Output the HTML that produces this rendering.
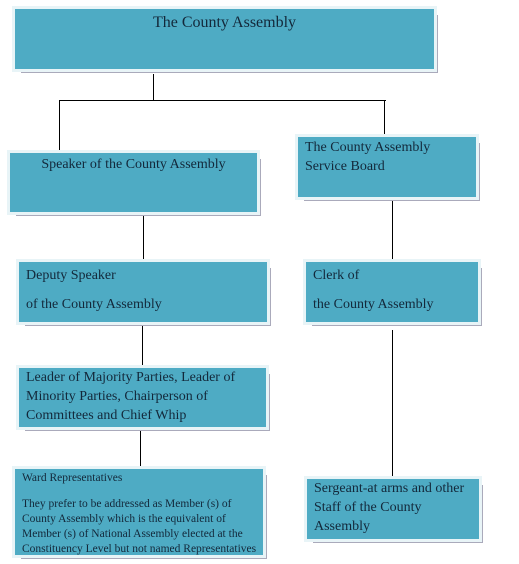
<!DOCTYPE html>
<html><head><style>
body{margin:0;width:519px;height:564px;background:#fff;position:relative;overflow:hidden;font-family:"Liberation Serif",serif;color:#13283a}
.b{position:absolute;background:#4eabc4;box-sizing:border-box;outline:3px solid #e8f4f7;box-shadow:4px 4px 0 -1px #fff,5px 5px 0 -1px #aab;}
.l{position:absolute;background:#000}
.t{position:absolute;white-space:nowrap;line-height:1.3}
</style></head><body>
<div class="l" style="left:153px;top:74px;width:1px;height:27px"></div>
<div class="l" style="left:59px;top:100px;width:327px;height:1px"></div>
<div class="l" style="left:59px;top:100px;width:1px;height:52px"></div>
<div class="l" style="left:384px;top:100px;width:1px;height:34px"></div>
<div class="l" style="left:143px;top:216px;width:1px;height:44px"></div>
<div class="l" style="left:392px;top:200px;width:1px;height:60px"></div>
<div class="l" style="left:142px;top:322px;width:1px;height:45px"></div>
<div class="l" style="left:392px;top:330px;width:1px;height:148px"></div>
<div class="l" style="left:140px;top:427px;width:1px;height:40px"></div>

<div class="b" style="left:15px;top:9px;width:419px;height:60px"><div class="t" style="left:0;width:100%;text-align:center;top:4px;font-size:16px">The County Assembly</div></div>
<div class="b" style="left:10px;top:153px;width:247px;height:59px"><div class="t" style="left:0;width:100%;text-align:center;top:3px;font-size:14px">Speaker of the County Assembly</div></div>
<div class="b" style="left:298px;top:137px;width:178px;height:60px"><div class="t" style="left:7px;top:1px;font-size:14px;line-height:19px">The County Assembly<br>Service Board</div></div>
<div class="b" style="left:19px;top:262px;width:248px;height:60px"><div class="t" style="left:7px;top:-1px;font-size:14px;line-height:29px">Deputy Speaker<br>of the County Assembly</div></div>
<div class="b" style="left:306px;top:262px;width:172px;height:60px"><div class="t" style="left:7px;top:-1px;font-size:14px;line-height:29px">Clerk of<br>the County Assembly</div></div>
<div class="b" style="left:19px;top:368px;width:247px;height:59px"><div class="t" style="left:7px;top:0px;font-size:14px;line-height:19px">Leader of Majority Parties, Leader of<br>Minority Parties, Chairperson of<br>Committees and Chief Whip</div></div>
<div class="b" style="left:15px;top:469px;width:248px;height:86px;overflow:hidden"><div class="t" style="left:7px;top:2px;font-size:11.5px;line-height:15px">Ward Representatives<br><span style="display:block;height:11px"></span>They prefer to be addressed as Member (s) of<br>County Assembly which is the equivalent of<br>Member (s) of National Assembly elected at the<br>Constituency Level but not named Representatives</div></div>
<div class="b" style="left:307px;top:479px;width:172px;height:60px"><div class="t" style="left:7px;top:0px;font-size:14px;line-height:19px">Sergeant-at arms and other<br>Staff of the County<br>Assembly</div></div>
</body></html>
